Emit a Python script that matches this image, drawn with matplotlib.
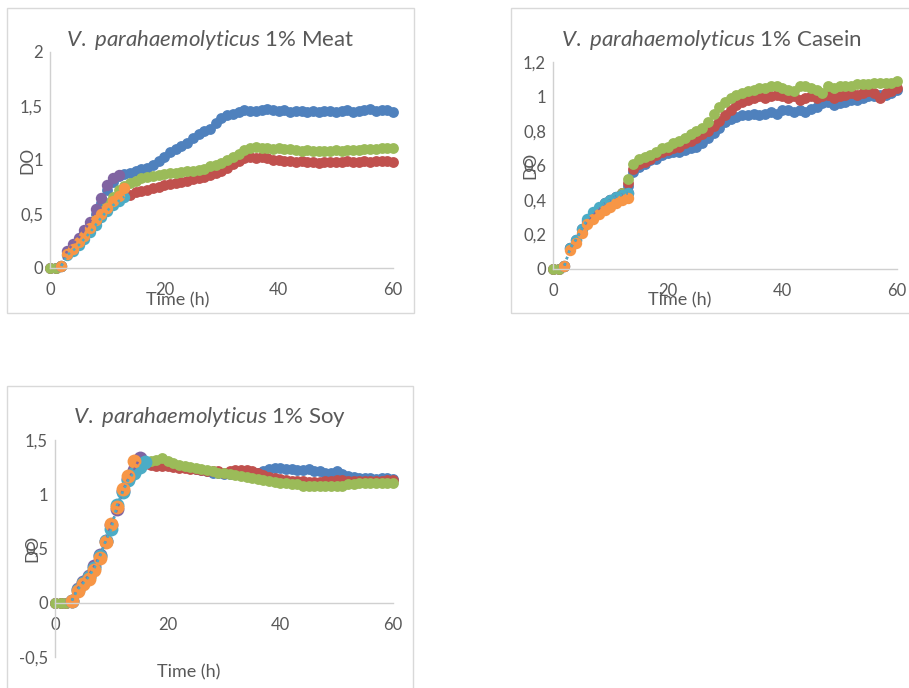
import numpy as np
import matplotlib.pyplot as plt
from matplotlib.patches import Rectangle
from matplotlib.ticker import FuncFormatter

plt.rcParams['font.family'] = ['Lato', 'DejaVu Sans']
plt.rcParams['mathtext.fontset'] = 'custom'
plt.rcParams['mathtext.it'] = 'Lato:italic'
plt.rcParams['mathtext.rm'] = 'Lato'

# --- Excel-like colours ---
blue = "#4F81BD"
red = "#C0504D"
green = "#9BBB59"
purple = "#8064A2"
aqua = "#4BACC6"
orange = "#F79646"
txt = "#595959"
grid = "#D0D0D0"

# --- time axis (h) ---
t = np.arange(0, 61)

# --- 1% Meat ---
meat_blue = [0, 0, 0.02, 0.15, 0.2, 0.26, 0.32, 0.4, 0.5, 0.6, 0.72, 0.8, 0.85,
             0.87, 0.88, 0.9, 0.92, 0.93, 0.95, 0.99, 1.03,
             1.07, 1.1, 1.13, 1.16, 1.2, 1.24, 1.27, 1.29, 1.34, 1.39,
             1.42, 1.43, 1.44, 1.46, 1.45, 1.45, 1.46, 1.47, 1.46, 1.45,
             1.46, 1.44, 1.45, 1.45, 1.44, 1.45, 1.44, 1.45, 1.45, 1.44,
             1.45, 1.46, 1.44, 1.45, 1.46, 1.47, 1.45, 1.46, 1.46, 1.44]
meat_red = [0, 0, 0.02, 0.13, 0.18, 0.23, 0.29, 0.35, 0.42, 0.49, 0.55, 0.6, 0.64,
            0.67, 0.68, 0.7, 0.71, 0.72, 0.74, 0.75, 0.77,
            0.78, 0.79, 0.8, 0.81, 0.82, 0.83, 0.84, 0.86, 0.88, 0.9,
            0.93, 0.96, 0.99, 1.02, 1.03, 1.02, 1.03, 1.02, 1.0, 1.0,
            0.99, 0.99, 0.98, 0.99, 0.98, 0.98, 0.97, 0.98, 0.98, 0.98,
            0.98, 0.99, 0.98, 0.98, 0.99, 0.98, 0.99, 0.99, 0.99, 0.98]
meat_green = [0, 0, 0.02, 0.14, 0.19, 0.25, 0.31, 0.37, 0.45, 0.53, 0.6, 0.66, 0.72,
              0.76, 0.79, 0.81, 0.83, 0.84, 0.85, 0.86, 0.87,
              0.88, 0.88, 0.89, 0.9, 0.9, 0.91, 0.92, 0.94, 0.95, 0.97,
              1.0, 1.03, 1.06, 1.09, 1.11, 1.12, 1.11, 1.11, 1.1, 1.11,
              1.1, 1.1, 1.09, 1.08, 1.09, 1.08, 1.08, 1.08, 1.08, 1.09,
              1.08, 1.09, 1.09, 1.09, 1.1, 1.1, 1.1, 1.11, 1.11, 1.11]
meat_t_purple = np.arange(2, 13)
meat_purple = [0.02, 0.16, 0.22, 0.28, 0.35, 0.43, 0.55, 0.65, 0.77, 0.83, 0.86]
meat_t_early = np.arange(2, 14)
meat_aqua = [0.02, 0.12, 0.16, 0.21, 0.27, 0.33, 0.4, 0.47, 0.53, 0.58, 0.62, 0.66]
meat_orange = [0.02, 0.13, 0.18, 0.24, 0.3, 0.37, 0.44, 0.5, 0.56, 0.62, 0.67, 0.74]

# --- 1% Casein ---
cas_blue = [0, 0, 0.02, 0.12, 0.16, 0.22, 0.27, 0.31, 0.35, 0.37, 0.4, 0.42, 0.44, 0.48,
            0.56, 0.59, 0.61, 0.63, 0.64, 0.66, 0.67,
            0.68, 0.68, 0.69, 0.7, 0.71, 0.73, 0.76, 0.79, 0.82, 0.85,
            0.87, 0.88, 0.89, 0.89, 0.9, 0.89, 0.9, 0.91, 0.9, 0.92,
            0.92, 0.91, 0.92, 0.91, 0.93, 0.94, 0.96, 0.97, 0.95, 0.96,
            0.97, 0.98, 0.98, 0.99, 1.0, 1.0, 1.01, 1.01, 1.02, 1.04]
cas_red = [0, 0, 0.02, 0.12, 0.16, 0.22, 0.27, 0.31, 0.35, 0.38, 0.4, 0.42, 0.44, 0.5,
           0.58, 0.61, 0.62, 0.64, 0.66, 0.68, 0.69,
           0.7, 0.71, 0.73, 0.74, 0.76, 0.78, 0.8, 0.83, 0.86, 0.89,
           0.92, 0.95, 0.97, 0.98, 0.99, 1.0, 0.99, 1.0, 1.01, 1.0,
           0.99, 1.0, 0.98, 0.99, 1.0, 0.99, 1.0, 1.01, 0.99, 1.0,
           1.01, 1.02, 1.01, 1.02, 1.03, 1.02, 0.99, 1.02, 1.03, 1.05]
cas_green = [0, 0, 0.02, 0.12, 0.16, 0.22, 0.27, 0.31, 0.35, 0.38, 0.4, 0.42, 0.44, 0.52,
             0.61, 0.64, 0.65, 0.66, 0.68, 0.7, 0.71,
             0.73, 0.74, 0.76, 0.78, 0.8, 0.82, 0.85, 0.9, 0.94, 0.97,
             0.99, 1.01, 1.02, 1.03, 1.04, 1.05, 1.05, 1.06, 1.06, 1.05,
             1.04, 1.03, 1.06, 1.06, 1.05, 1.04, 1.02, 1.06, 1.05, 1.06,
             1.06, 1.06, 1.07, 1.07, 1.07, 1.08, 1.08, 1.08, 1.08, 1.09]
cas_t_early = np.arange(2, 14)
cas_purple = [0.02, 0.12, 0.17, 0.23, 0.28, 0.32, 0.35, 0.38, 0.4, 0.42, 0.43, 0.44]
cas_aqua = [0.02, 0.12, 0.17, 0.23, 0.29, 0.33, 0.36, 0.38, 0.4, 0.42, 0.43, 0.44]
cas_orange = [0.02, 0.11, 0.15, 0.21, 0.26, 0.29, 0.32, 0.34, 0.36, 0.38, 0.4, 0.41]

# --- 1% Soy ---
soy_blue = [0, 0, 0, 0.02, 0.12, 0.17, 0.23, 0.31, 0.42, 0.57, 0.7, 0.88, 1.03, 1.15,
            1.2, 1.26, 1.3, 1.3, 1.29, 1.29, 1.28,
            1.27, 1.26, 1.25, 1.24, 1.23, 1.22, 1.21, 1.2, 1.2, 1.19,
            1.19, 1.19, 1.2, 1.2, 1.2, 1.2, 1.21, 1.23, 1.24, 1.24,
            1.23, 1.23, 1.22, 1.22, 1.23, 1.21, 1.21, 1.2, 1.2, 1.21,
            1.19, 1.17, 1.16, 1.15, 1.15, 1.15, 1.14, 1.15, 1.15, 1.14]
soy_red = [0, 0, 0, 0.02, 0.12, 0.17, 0.23, 0.31, 0.42, 0.57, 0.7, 0.88, 1.03, 1.15,
           1.2, 1.25, 1.28, 1.27, 1.26, 1.26, 1.26,
           1.25, 1.24, 1.24, 1.23, 1.23, 1.22, 1.21, 1.21, 1.21, 1.2,
           1.21, 1.22, 1.22, 1.22, 1.21, 1.2, 1.18, 1.16, 1.15, 1.14,
           1.13, 1.12, 1.12, 1.12, 1.11, 1.11, 1.11, 1.12, 1.12, 1.13,
           1.13, 1.12, 1.12, 1.12, 1.12, 1.12, 1.12, 1.12, 1.13, 1.13]
soy_green = [0, 0, 0, 0.02, 0.12, 0.17, 0.23, 0.31, 0.42, 0.57, 0.7, 0.88, 1.03, 1.15,
             1.2, 1.26, 1.3, 1.31, 1.32, 1.33, 1.31,
             1.29, 1.27, 1.26, 1.25, 1.24, 1.23, 1.22, 1.21, 1.2, 1.2,
             1.19, 1.18, 1.17, 1.16, 1.15, 1.14, 1.13, 1.12, 1.11, 1.1,
             1.1, 1.09, 1.09, 1.08, 1.08, 1.08, 1.08, 1.08, 1.08, 1.08,
             1.08, 1.09, 1.09, 1.1, 1.1, 1.1, 1.1, 1.1, 1.1, 1.1]
soy_t_purple = np.arange(3, 16)
soy_purple = [0.02, 0.13, 0.19, 0.25, 0.34, 0.44, 0.57, 0.72, 0.86, 1.03, 1.14, 1.22, 1.33]
soy_t_aqua = np.arange(3, 17)
soy_aqua = [0.02, 0.12, 0.18, 0.24, 0.32, 0.43, 0.57, 0.68, 0.9, 1.02, 1.13, 1.2, 1.25, 1.3]
soy_t_orange = np.arange(3, 15)
soy_orange = [0.02, 0.11, 0.17, 0.22, 0.3, 0.41, 0.56, 0.73, 0.88, 1.05, 1.17, 1.31]

W, H = 909, 688
fig = plt.figure(figsize=(W / 100, H / 100), dpi=100)


def box(x0, y0, x1, y1):
    # pixel box (top-left origin) -> figure fraction rect
    return [x0 / W, 1 - y1 / H, (x1 - x0) / W, (y1 - y0) / H]


def comma(v, pos):
    return f"{v:g}".replace(".", ",")


def panel(frame, area, ylim, yticks, title, title_y, xlabel_xy, main, early, big=7.8, ms_early=8.2):
    fx0, fy0, fx1, fy1 = frame
    fig.patches.append(Rectangle((fx0 / W, 1 - fy1 / H), (fx1 - fx0) / W, (fy1 - fy0) / H,
                                 transform=fig.transFigure, fill=False,
                                 edgecolor="#D9D9D9", lw=1))
    ax = fig.add_axes(box(*area))
    for s in ["top", "right"]:
        ax.spines[s].set_visible(False)
    for s in ["left", "bottom"]:
        ax.spines[s].set_color(grid)
        ax.spines[s].set_linewidth(1)
    ax.spines["bottom"].set_position(("data", 0))
    ax.set_xlim(0, 60)
    ax.set_ylim(*ylim)
    ax.set_xticks([0, 20, 40, 60])
    ax.set_yticks(yticks)
    ax.yaxis.set_major_formatter(FuncFormatter(comma))
    ax.tick_params(axis="both", length=0, labelsize=12, labelcolor=txt)
    ax.tick_params(axis="x", pad=10)
    ax.tick_params(axis="y", pad=5)

    for x, y, c in main:
        ax.plot(x, y, "o", color=c, ms=big, mew=0, clip_on=False)
    for x, y, c in early:
        ax.plot(x, y, "o", color=c, ms=ms_early, mew=0, clip_on=False)
    for x, y, c in early[:2]:
        ax.plot(x, y, ":", color=c, lw=1.8, clip_on=False)

    ax.set_ylabel("DO", fontsize=12.5, color=txt)
    ax.yaxis.set_label_coords(-15 / (area[2] - area[0]), 0.5)
    fig.text((fx0 + fx1) / 2 / W, 1 - title_y / H, title, fontsize=16,
             color=txt, ha="center", va="center")
    fig.text(xlabel_xy[0] / W, 1 - xlabel_xy[1] / H, "Time (h)", fontsize=13,
             color=txt, ha="center", va="center")
    return ax


panel((7, 8, 414, 313), (50, 52, 393, 268), (0, 2), [0, 0.5, 1, 1.5, 2],
      r"$\it{V.\ parahaemolyticus}$ 1% Meat", 40, (178, 300),
      [(t, meat_blue, blue), (t, meat_red, red), (t, meat_green, green)],
      [(meat_t_purple, meat_purple, purple), (meat_t_early, meat_aqua, aqua),
       (meat_t_early, meat_orange, orange)])

panel((511, 8, 912, 313), (553, 62, 897, 269), (0, 1.2), [0, 0.2, 0.4, 0.6, 0.8, 1, 1.2],
      r"$\it{V.\ parahaemolyticus}$ 1% Casein", 40, (680, 300),
      [(t, cas_blue, blue), (t, cas_red, red), (t, cas_green, green)],
      [(cas_t_early, cas_purple, purple), (cas_t_early, cas_aqua, aqua),
       (cas_t_early, cas_orange, orange)])

panel((7, 386, 413, 692), (55, 440, 393, 657), (-0.5, 1.5), [-0.5, 0, 0.5, 1, 1.5],
      r"$\it{V.\ parahaemolyticus}$ 1% Soy", 417, (189, 672),
      [(t, soy_blue, blue), (t, soy_red, red), (t, soy_green, green)],
      [(soy_t_purple, soy_purple, purple), (soy_t_aqua, soy_aqua, aqua),
       (soy_t_orange, soy_orange, orange)], ms_early=10)

fig.savefig("out.png", dpi=100)
